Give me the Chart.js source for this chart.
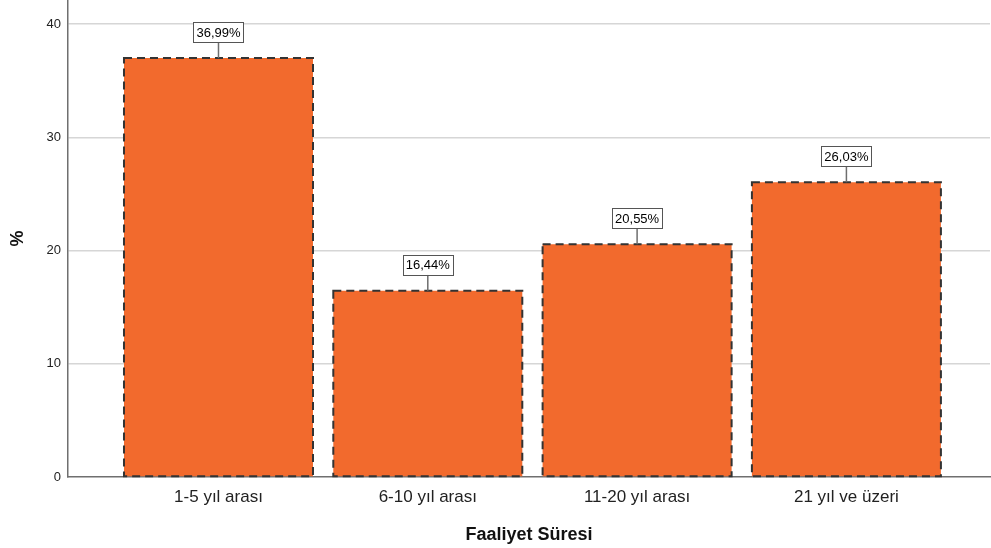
<!DOCTYPE html>
<html>
<head>
<meta charset="utf-8">
<script src="https://cdn.jsdelivr.net/npm/chart.js@4/dist/chart.umd.min.js"></script>
<style>
  html, body { margin: 0; padding: 0; background: #ffffff; }
  #wrap { width: 991px; height: 548px; position: relative; }
</style>
</head>
<body>
<div id="wrap"><canvas id="chart"></canvas></div>
<script>
// Faaliyet süresine göre dağılım (%)
const categories = ['1-5 yıl arası', '6-10 yıl arası', '11-20 yıl arası', '21 yıl ve üzeri'];
const percentages = [36.99, 16.44, 20.55, 26.03];
const yTicks = [0, 10, 20, 30, 40];

const FONT = 'Liberation Sans, Arial, Helvetica, sans-serif';
const BAR_FILL = '#f26a2d';
const BAR_EDGE = '#333333';

function formatPct(v) {
  return v.toFixed(2).replace('.', ',') + '%';
}

// Dashed outline around every bar plus a boxed value label with a leader line
const barDecor = {
  id: 'barDecor',
  afterDatasetsDraw(chart) {
    const ctx = chart.ctx;
    const meta = chart.getDatasetMeta(0);
    const values = chart.data.datasets[0].data;
    meta.data.forEach((bar, i) => {
      const p = bar.getProps(['x', 'y', 'base', 'width'], true);
      const left = p.x - p.width / 2;
      const right = p.x + p.width / 2;
      const top = Math.min(p.y, p.base);
      const bottom = Math.max(p.y, p.base);

      ctx.save();
      ctx.strokeStyle = BAR_EDGE;
      ctx.lineWidth = 2;
      ctx.setLineDash([8, 5]);
      ctx.strokeRect(left, top, right - left, bottom - top);
      ctx.restore();

      const text = formatPct(values[i].y);
      ctx.save();
      ctx.font = '13px ' + FONT;
      const tw = ctx.measureText(text).width;
      const boxW = Math.round(tw + 6);
      const boxH = 20;
      const gap = 16;
      const boxBottom = top - gap;
      const boxTop = boxBottom - boxH;
      const boxLeft = Math.round(p.x - boxW / 2) + 0.5;

      ctx.strokeStyle = '#6e6e6e';
      ctx.lineWidth = 1.5;
      ctx.beginPath();
      ctx.moveTo(p.x, top);
      ctx.lineTo(p.x, boxBottom);
      ctx.stroke();

      ctx.fillStyle = '#ffffff';
      ctx.fillRect(boxLeft, boxTop, boxW, boxH);
      ctx.strokeStyle = '#555555';
      ctx.lineWidth = 1;
      ctx.strokeRect(boxLeft, Math.round(boxTop) + 0.5, boxW, boxH);

      ctx.fillStyle = '#000000';
      ctx.textAlign = 'center';
      ctx.textBaseline = 'middle';
      ctx.fillText(text, p.x, boxTop + boxH / 2 + 1);
      ctx.restore();
    });
  }
};

const points = categories.map((c, i) => ({ x: i, y: percentages[i] }));

new Chart(document.getElementById('chart'), {
  type: 'bar',
  data: {
    datasets: [{
      data: points,
      backgroundColor: BAR_FILL,
      borderWidth: 0,
      barPercentage: 0.903,
      categoryPercentage: 1.0
    }]
  },
  options: {
    responsive: true,
    maintainAspectRatio: false,
    animation: false,
    layout: { padding: { left: 0, right: 1, top: 0, bottom: 0 } },
    plugins: {
      legend: { display: false },
      tooltip: { enabled: false }
    },
    scales: {
      x: {
        type: 'linear',
        offset: false,
        min: -0.719,
        max: 3.686,
        afterBuildTicks(scale) {
          scale.ticks = categories.map((c, i) => ({ value: i }));
        },
        afterFit(scale) {
          scale.height = 71;
          scale.paddingLeft = 0;
          scale.paddingRight = 0;
        },
        grid: { display: false, drawTicks: false },
        border: { display: true, color: '#6f6f6f', width: 1.5 },
        ticks: {
          padding: 10,
          color: '#222222',
          font: { family: FONT, size: 17 },
          autoSkip: false,
          maxRotation: 0,
          callback: (v) => categories[v]
        },
        title: {
          display: true,
          text: 'Faaliyet Süresi',
          color: '#111111',
          font: { family: FONT, size: 18, weight: 'bold' },
          padding: { top: 4, bottom: 2 }
        }
      },
      y: {
        min: 0,
        max: 42.12,
        afterBuildTicks(scale) {
          scale.ticks = yTicks.map(v => ({ value: v }));
        },
        afterFit(scale) {
          scale.width = 68;
          scale.paddingTop = 0;
          scale.paddingBottom = 0;
        },
        grid: {
          drawTicks: false,
          color: (c) => c.tick && c.tick.value === 0 ? 'rgba(0,0,0,0)' : '#d6d6d6',
          lineWidth: 1.5
        },
        border: { display: true, color: '#6f6f6f', width: 1.5 },
        ticks: {
          padding: 7,
          color: '#222222',
          font: { family: FONT, size: 13 }
        },
        title: {
          display: true,
          text: '%',
          color: '#111111',
          font: { family: FONT, size: 18, weight: 'bold' },
          padding: { top: 7, bottom: 4 }
        }
      }
    }
  },
  plugins: [barDecor]
});
</script>
</body>
</html>
